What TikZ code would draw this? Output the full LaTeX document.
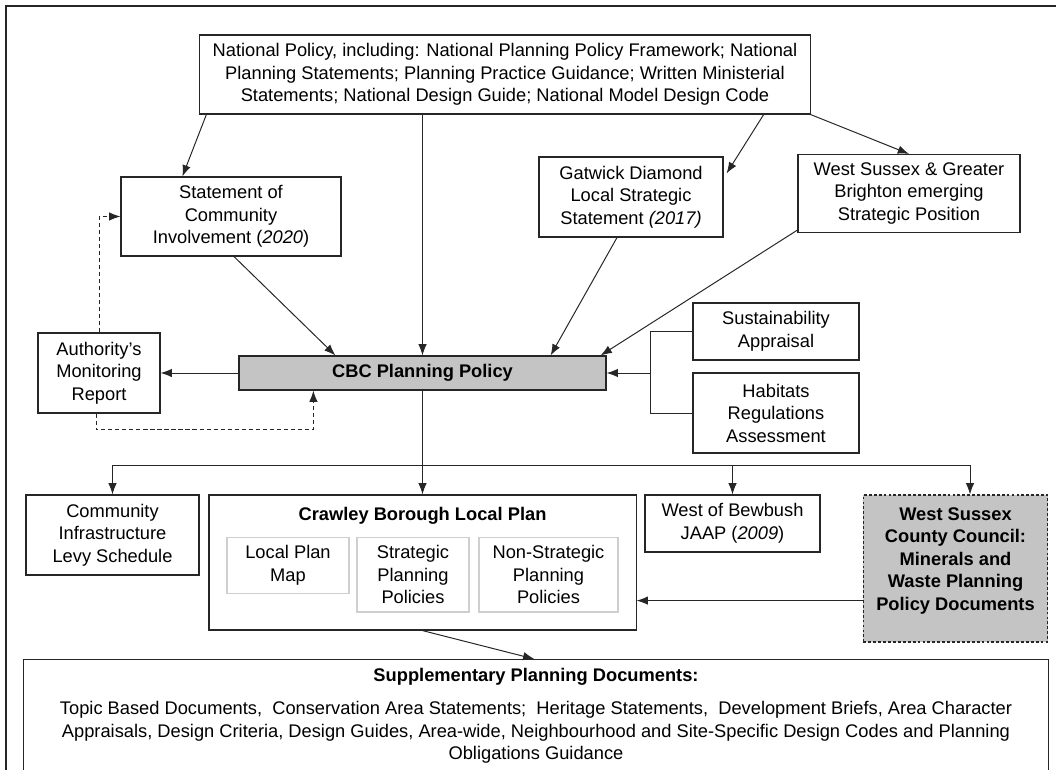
\documentclass[tikz,border=0pt]{standalone}
\usepackage{fontspec}
\setmainfont{Liberation Sans}
\usepackage{xcolor}
\usepackage{tikz}
\usetikzlibrary{arrows.meta, positioning, calc}
\definecolor{linegrey}{HTML}{262626}
\definecolor{boxfill}{HTML}{C4C4C4}
\definecolor{subgrey}{HTML}{CFCFCF}
\newcommand{\docfont}{\fontsize{13}{16}\selectfont}

\begin{document}
\begin{tikzpicture}[
  x=0.025cm, y=-0.025cm,
  doc/.style={rectangle, draw=linegrey, line width=0.8pt, fill=white,
              align=center, inner sep=2pt, font=\docfont},
  keydoc/.style={doc, fill=boxfill, font=\docfont\bfseries},
  subdoc/.style={doc, draw=subgrey, anchor=north, inner xsep=2pt,
                 inner ysep=0.2cm},
  link/.style={-{Latex[length=8pt, width=6pt]}, line width=0.7pt, draw=linegrey},
  plainlink/.style={line width=0.7pt, draw=linegrey},
  dlink/.style={link, dashed, dash pattern=on 3pt off 2pt}
]

\useasboundingbox (0,0) rectangle (1056,769);
\clip (0,0) rectangle (1056,769);
\fill[white] (0,0) rectangle (1056,769);
\draw[line width=0.8pt, draw=linegrey] (6,800) |- (1100,6);

% National level
\node[doc, minimum width=15.25cm, minimum height=1.975cm] (natpol) at (505,74.5)
      {National Policy, including: National Planning Policy Framework; National\\
       Planning Statements; Planning Practice Guidance; Written Ministerial\\
       Statements; National Design Guide; National Model Design Code};

% Second row
\node[doc, minimum width=5.5cm, minimum height=1.975cm] (sci) at (231,216.5)
      {Statement of\\Community\\Involvement (\textit{2020})};
\node[doc, minimum width=4.6cm, minimum height=2cm] (gatwick) at (631,197)
      {Gatwick Diamond\\Local Strategic\\Statement \textit{(2017)}};
\node[doc, minimum width=5.55cm, minimum height=1.95cm] (wsgb) at (909,193.5)
      {West Sussex \& Greater\\Brighton emerging\\Strategic Position};

% Central policy row
\node[keydoc, minimum width=9.175cm, minimum height=0.85cm] (cbc) at (422.5,373)
      {CBC Planning Policy};
\node[doc, minimum width=3.05cm, minimum height=2cm] (amr) at (99,373)
      {Authority’s\\Monitoring\\Report};
\node[doc, minimum width=4.15cm, minimum height=1.425cm] (sa) at (776,331.5)
      {Sustainability\\Appraisal};
\node[doc, minimum width=4.15cm, minimum height=2cm] (hra) at (776,413)
      {Habitats\\Regulations\\Assessment};

% Plan documents
\node[doc, minimum width=4.325cm, minimum height=2cm] (cil) at (112.5,535)
      {Community\\Infrastructure\\Levy Schedule};
\node[doc, minimum width=10.675cm, minimum height=3.375cm,
      label={[anchor=north, font=\docfont\bfseries, yshift=-0.2cm]north:Crawley Borough Local Plan}]
      (cblp) at (422.5,562.5) {};
\node[subdoc, minimum width=3.05cm] (lpm) at (288,537) {Local Plan\\Map};
\node[subdoc, minimum width=2.8cm] (spp) at (413,537) {Strategic\\Planning\\Policies};
\node[subdoc, minimum width=3.475cm] (nspp) at (548.5,537) {Non-Strategic\\Planning\\Policies};
\node[doc, minimum width=4.375cm, minimum height=1.425cm] (bewbush) at (732.5,523.5)
      {West of Bewbush\\JAAP (\textit{2009})};
\node[keydoc, dashed, dash pattern=on 2pt off 1.5pt, minimum width=4.6cm,
      minimum height=3.675cm,
      label={[anchor=north, align=center, font=\docfont\bfseries, yshift=-0.2cm]north:%
        West Sussex\\County Council:\\Minerals and\\Waste Planning\\Policy Documents}]
      (wscc) at (955.5,568.5) {};

% Supplementary documents
\node[doc, anchor=north, minimum width=25.6cm, minimum height=4cm,
      label={[anchor=north, align=center, font=\docfont, yshift=-0.1cm]north:%
        \textbf{Supplementary Planning Documents:}\\[8pt]
        Topic Based Documents, \ Conservation Area Statements; \ Heritage Statements, \ Development Briefs, Area Character\\
        Appraisals, Design Criteria, Design Guides, Area-wide, Neighbourhood and Site-Specific Design Codes and Planning\\
        Obligations Guidance}]
      (spd) at (536,659) {};

% From national policy
\draw[link] ($(natpol.south west)+(7,0)$) -- ($(sci.north west)+(62,0)$);
\draw[link] (natpol.south -| cbc.north) -- (cbc.north);
\draw[link] ($(natpol.south east)+(-47,0)$) -- ($(gatwick.north east)+(3,17)$);
\draw[link] (natpol.south east) -- (wsgb.north);

% Into CBC planning policy
\draw[link] ($(sci.south)+(3,0)$) -- ($(cbc.north west)+(97,0)$);
\draw[link] ($(gatwick.south)+(-14,0)$) -- ($(cbc.north east)+(-56,0)$);
\draw[link] ($(wsgb.south west)+(0,-3)$) -- ($(cbc.north east)+(-6,0)$);
\coordinate (brk) at ($(cbc.east)+(44,0)$);
\draw[plainlink] (sa.west) -| (brk) |- (hra.west);
\draw[link] (brk) -- (cbc.east);

% Monitoring loop
\draw[link] (cbc.west) -- (amr.east);
\draw[dlink] (amr.north) |- (sci.west);
\draw[dlink] ($(amr.south)+(-3,0)$) -- ++(0,16) -| ($(cbc.south west)+(75,0)$);

% Down to plan documents
\coordinate (split) at ($(cbc.south)+(0,75)$);
\draw[link] (cbc.south) -- (cblp.north);
\draw[link] (split) -| (cil.north);
\draw[link] (split) -| (bewbush.north);
\draw[link] (split) -| ($(wscc.north)+(14.5,0)$);
\coordinate (wsin) at ($(wscc.south west)+(0,-42)$);
\draw[link] (wsin) -- (wsin -| cblp.east);
\draw[link] (cblp.south) -- ($(spd.north west)+(511,0)$);

\end{tikzpicture}
\end{document}
